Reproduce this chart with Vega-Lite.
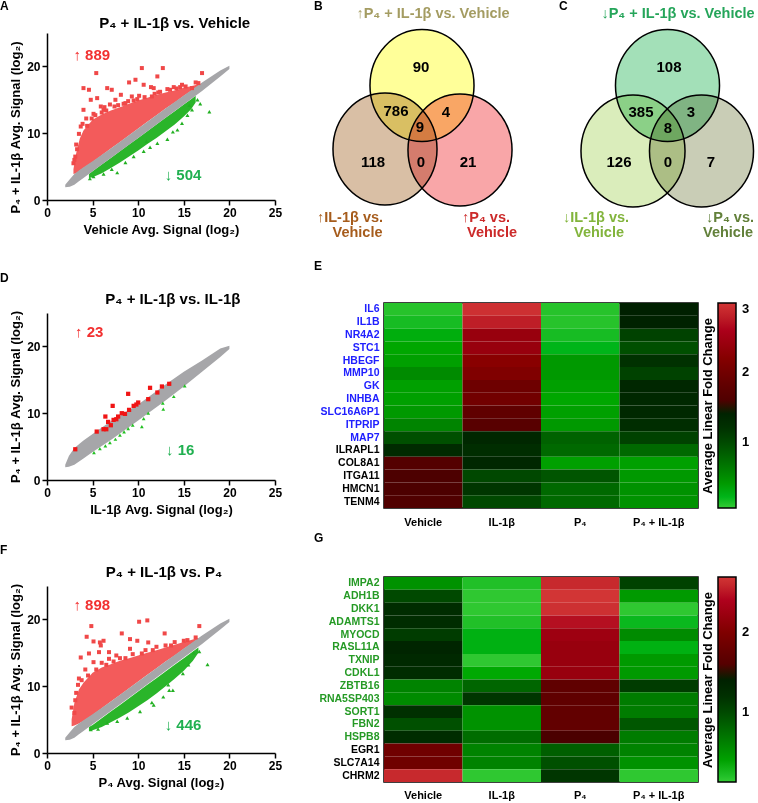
{
  "$schema": "https://vega.github.io/schema/vega-lite/v6.json",
  "padding": 0,
  "background": "white",
  "config": {
    "font": "Liberation Sans",
    "view": {"stroke": null},
    "axis": {"labelFontWeight": "bold", "titleFontWeight": "bold", "labelColor": "black", "titleColor": "black", "domainColor": "black", "tickColor": "black", "grid": false}
  },
  "datasets": {
    "A_rc": [{"x":2.9,"lo":3.9,"hi":4.6},{"x":3.2,"lo":4.0,"hi":7.0},{"x":3.6,"lo":4.4,"hi":9.2},{"x":4,"lo":4.8,"hi":10.4},{"x":5,"lo":5.7,"hi":12.0},{"x":6,"lo":6.7,"hi":12.8},{"x":7,"lo":7.7,"hi":13.4},{"x":8,"lo":8.7,"hi":13.9},{"x":9,"lo":9.7,"hi":14.4},{"x":10,"lo":10.7,"hi":14.9},{"x":11,"lo":11.7,"hi":15.3},{"x":12,"lo":12.7,"hi":15.7},{"x":13,"lo":13.7,"hi":16.1},{"x":14,"lo":14.6,"hi":16.4},{"x":15,"lo":15.6,"hi":16.8},{"x":16,"lo":16.5,"hi":17.1},{"x":16.8,"lo":17.3,"hi":17.4}],
    "A_gc": [{"x":4.6,"lo":3.3,"hi":3.9},{"x":5,"lo":3.4,"hi":4.3},{"x":6,"lo":4.0,"hi":5.3},{"x":7,"lo":4.8,"hi":6.3},{"x":8,"lo":5.6,"hi":7.3},{"x":9,"lo":6.5,"hi":8.3},{"x":10,"lo":7.4,"hi":9.3},{"x":11,"lo":8.4,"hi":10.3},{"x":12,"lo":9.3,"hi":11.3},{"x":13,"lo":10.3,"hi":12.3},{"x":14,"lo":11.3,"hi":13.3},{"x":15,"lo":12.5,"hi":14.3},{"x":15.8,"lo":13.6,"hi":15.1},{"x":16.3,"lo":14.6,"hi":15.6}],
    "A_gray": [{"x":2.0,"lo":1.9,"hi":2.3},{"x":2.5,"lo":2.0,"hi":3.1},{"x":3,"lo":2.3,"hi":3.9},{"x":3.5,"lo":2.8,"hi":4.4},{"x":4,"lo":3.3,"hi":4.9},{"x":5,"lo":4.3,"hi":5.8},{"x":7,"lo":6.3,"hi":7.7},{"x":10,"lo":9.3,"hi":10.7},{"x":13,"lo":12.3,"hi":13.7},{"x":16,"lo":15.3,"hi":16.6},{"x":17,"lo":16.3,"hi":17.6},{"x":18,"lo":17.4,"hi":18.5},{"x":19,"lo":18.5,"hi":19.4},{"x":20,"lo":19.6,"hi":20.1}],
    "A_rp": [{"x":5.4,"y":19.0},{"x":4.0,"y":16.75},{"x":4.6,"y":16.5},{"x":6.6,"y":16.75},{"x":7.1,"y":16.5},{"x":7.5,"y":15.0},{"x":5.5,"y":15.25},{"x":5.9,"y":14.0},{"x":4.0,"y":13.5},{"x":3.2,"y":8.3},{"x":9.0,"y":17.6},{"x":9.7,"y":18.0},{"x":10.4,"y":19.75},{"x":10.6,"y":17.25},{"x":11.4,"y":16.9},{"x":11.7,"y":16.75},{"x":12.7,"y":19.75},{"x":12.1,"y":18.5},{"x":13.9,"y":16.9},{"x":14.8,"y":17.25},{"x":17.0,"y":19.0},{"x":15.9,"y":16.75},{"x":11.5,"y":15.5},{"x":8.1,"y":15.75},{"x":9.3,"y":15.5},{"x":6.2,"y":13.5},{"x":3.7,"y":11.0},{"x":3.5,"y":9.9},{"x":4.8,"y":15.0},{"x":3.1,"y":6.5},{"x":2.9,"y":5.5},{"x":4.3,"y":12.2},{"x":6.9,"y":14.3},{"x":8.6,"y":14.5},{"x":10.1,"y":15.6},{"x":13.2,"y":16.6},{"x":16.3,"y":17.6},{"x":5.1,"y":12.9},{"x":3.9,"y":11.4},{"x":7.8,"y":14.2},{"x":12.4,"y":16.2},{"x":14.6,"y":16.9},{"x":6.3,"y":13.9},{"x":9.9,"y":15.1},{"x":3.0,"y":6.0},{"x":3.3,"y":7.6},{"x":4.4,"y":11.1},{"x":5.3,"y":12.7},{"x":6.5,"y":13.4},{"x":7.4,"y":14.0},{"x":8.4,"y":14.4},{"x":9.5,"y":14.9},{"x":10.7,"y":15.4},{"x":11.8,"y":15.9},{"x":13.5,"y":16.5},{"x":15.2,"y":17.0},{"x":16.6,"y":17.5},{"x":4.9,"y":12.2},{"x":6.0,"y":13.1},{"x":8.9,"y":14.8},{"x":12.2,"y":16.1},{"x":14.2,"y":16.7}],
    "A_gp": [{"x":5.1,"y":3.5},{"x":6.2,"y":3.9},{"x":7.7,"y":4.1},{"x":9.5,"y":6.5},{"x":10.6,"y":7.3},{"x":12.1,"y":8.5},{"x":13.2,"y":9.1},{"x":14.3,"y":10.5},{"x":14.8,"y":11.5},{"x":15.4,"y":12.7},{"x":15.9,"y":13.5},{"x":16.8,"y":14.4},{"x":16.5,"y":15.0},{"x":17.8,"y":13.2},{"x":4.7,"y":3.2},{"x":8.6,"y":5.6},{"x":11.3,"y":7.9},{"x":13.8,"y":10.2},{"x":15.6,"y":14.2},{"x":7.1,"y":4.6},{"x":10.9,"y":8.8}],
    "D_gray": [{"x":2.0,"lo":1.9,"hi":2.3},{"x":2.4,"lo":2.0,"hi":3.6},{"x":3,"lo":2.3,"hi":4.8},{"x":4,"lo":3.2,"hi":5.9},{"x":5,"lo":4.2,"hi":6.9},{"x":7,"lo":6.0,"hi":8.8},{"x":10,"lo":8.9,"hi":11.3},{"x":13,"lo":11.9,"hi":14.3},{"x":15,"lo":14.0,"hi":16.2},{"x":17,"lo":16.2,"hi":17.9},{"x":19,"lo":18.4,"hi":19.7},{"x":20,"lo":19.6,"hi":20.1}],
    "D_rp": [{"x":3.1,"y":4.6},{"x":5.45,"y":7.25},{"x":6.2,"y":7.6},{"x":6.5,"y":7.6},{"x":6.7,"y":8.7},{"x":7.0,"y":8.2},{"x":7.2,"y":11.1},{"x":6.4,"y":9.5},{"x":7.3,"y":9.0},{"x":7.6,"y":9.1},{"x":7.8,"y":9.5},{"x":8.2,"y":10.0},{"x":8.55,"y":9.9},{"x":8.9,"y":12.9},{"x":9.0,"y":10.5},{"x":9.5,"y":11.1},{"x":9.8,"y":11.3},{"x":10.0,"y":11.6},{"x":11.1,"y":12.1},{"x":11.3,"y":13.8},{"x":12.1,"y":13.1},{"x":12.6,"y":14.0},{"x":13.4,"y":14.4}],
    "D_gp": [{"x":5.15,"y":4.1},{"x":5.8,"y":4.7},{"x":6.4,"y":5.1},{"x":6.9,"y":5.6},{"x":7.5,"y":6.1},{"x":8.0,"y":6.7},{"x":8.45,"y":7.2},{"x":8.9,"y":7.7},{"x":9.4,"y":8.2},{"x":10.4,"y":8.0},{"x":10.6,"y":9.2},{"x":11.1,"y":10.0},{"x":12.7,"y":11.5},{"x":12.75,"y":10.6},{"x":13.9,"y":12.5},{"x":15.1,"y":14.1}],
    "F_rc": [{"x":2.7,"lo":4.0,"hi":5.0},{"x":3.0,"lo":4.1,"hi":7.5},{"x":3.5,"lo":4.4,"hi":9.5},{"x":4,"lo":4.8,"hi":10.5},{"x":5,"lo":5.7,"hi":12.0},{"x":6,"lo":6.7,"hi":12.8},{"x":7,"lo":7.7,"hi":13.3},{"x":8,"lo":8.7,"hi":13.8},{"x":9,"lo":9.7,"hi":14.2},{"x":10,"lo":10.7,"hi":14.6},{"x":11,"lo":11.7,"hi":15.0},{"x":12,"lo":12.7,"hi":15.4},{"x":13,"lo":13.7,"hi":15.8},{"x":14,"lo":14.6,"hi":16.2},{"x":15,"lo":15.6,"hi":16.6},{"x":16,"lo":16.5,"hi":17.0},{"x":16.6,"lo":17.1,"hi":17.2}],
    "F_gc": [{"x":4.6,"lo":3.3,"hi":3.9},{"x":5,"lo":3.4,"hi":4.2},{"x":6,"lo":3.9,"hi":5.2},{"x":7,"lo":4.6,"hi":6.2},{"x":8,"lo":5.3,"hi":7.2},{"x":9,"lo":6.1,"hi":8.2},{"x":10,"lo":7.0,"hi":9.2},{"x":11,"lo":7.9,"hi":10.2},{"x":12,"lo":8.9,"hi":11.2},{"x":13,"lo":10.0,"hi":12.2},{"x":14,"lo":11.1,"hi":13.2},{"x":15,"lo":12.3,"hi":14.2},{"x":16,"lo":13.8,"hi":15.2},{"x":16.6,"lo":15.0,"hi":15.8}],
    "F_gray": [{"x":2.0,"lo":1.9,"hi":2.3},{"x":2.5,"lo":2.0,"hi":3.1},{"x":3,"lo":2.3,"hi":3.9},{"x":3.5,"lo":2.8,"hi":4.4},{"x":4,"lo":3.3,"hi":4.9},{"x":5,"lo":4.3,"hi":5.8},{"x":7,"lo":6.3,"hi":7.7},{"x":10,"lo":9.3,"hi":10.7},{"x":13,"lo":12.3,"hi":13.7},{"x":16,"lo":15.3,"hi":16.6},{"x":17,"lo":16.3,"hi":17.6},{"x":18,"lo":17.4,"hi":18.5},{"x":19,"lo":18.5,"hi":19.4},{"x":20,"lo":19.6,"hi":20.1}],
    "F_rp": [{"x":4.86,"y":19.0},{"x":10.1,"y":19.65},{"x":11.0,"y":19.85},{"x":4.35,"y":17.4},{"x":5.1,"y":16.7},{"x":5.8,"y":16.55},{"x":6.2,"y":16.8},{"x":8.2,"y":17.9},{"x":9.1,"y":17.05},{"x":9.9,"y":16.8},{"x":11.1,"y":16.55},{"x":12.9,"y":17.9},{"x":16.7,"y":19.0},{"x":3.7,"y":14.3},{"x":5.7,"y":15.1},{"x":6.8,"y":15.1},{"x":5.9,"y":16.1},{"x":9.1,"y":15.6},{"x":12.0,"y":15.9},{"x":3.5,"y":11.15},{"x":3.0,"y":6.0},{"x":6.8,"y":14.1},{"x":4.2,"y":12.5},{"x":5.1,"y":13.6},{"x":3.4,"y":10.2},{"x":6.0,"y":13.5},{"x":9.4,"y":14.8},{"x":14.0,"y":16.6},{"x":15.4,"y":16.9},{"x":4.6,"y":14.9},{"x":3.2,"y":9.0},{"x":2.7,"y":6.8},{"x":7.6,"y":14.6},{"x":10.8,"y":15.4},{"x":13.0,"y":16.1},{"x":8.0,"y":14.2},{"x":3.1,"y":7.9},{"x":3.8,"y":10.9},{"x":4.5,"y":11.6},{"x":5.4,"y":12.5},{"x":6.5,"y":13.2},{"x":7.3,"y":13.7},{"x":8.6,"y":14.2},{"x":10.4,"y":14.9},{"x":11.6,"y":15.4},{"x":13.6,"y":16.1},{"x":15.0,"y":16.8},{"x":16.3,"y":17.3}],
    "F_gp": [{"x":17.6,"y":13.25},{"x":16.7,"y":15.2},{"x":16.1,"y":15.0},{"x":13.8,"y":9.4},{"x":13.4,"y":9.4},{"x":12.75,"y":8.4},{"x":13.3,"y":10.2},{"x":11.5,"y":7.55},{"x":8.8,"y":5.25},{"x":6.6,"y":4.5},{"x":4.8,"y":3.5},{"x":7.7,"y":4.75},{"x":10.2,"y":6.2},{"x":11.7,"y":7.2},{"x":14.9,"y":11.9},{"x":5.6,"y":3.6},{"x":15.5,"y":13.2}],
    "E": [
      {"g":"IL6","Vehicle":0.1,"IL-1β":2.95,"P₄":0.1,"P₄ + IL-1β":1.45},
      {"g":"IL1B","Vehicle":0.15,"IL-1β":2.8,"P₄":0.1,"P₄ + IL-1β":1.42},
      {"g":"NR4A2","Vehicle":0.25,"IL-1β":2.4,"P₄":0.15,"P₄ + IL-1β":1.05},
      {"g":"STC1","Vehicle":0.3,"IL-1β":2.4,"P₄":0.2,"P₄ + IL-1β":0.95},
      {"g":"HBEGF","Vehicle":0.35,"IL-1β":2.25,"P₄":0.4,"P₄ + IL-1β":1.2},
      {"g":"MMP10","Vehicle":0.5,"IL-1β":2.15,"P₄":0.4,"P₄ + IL-1β":1.05},
      {"g":"GK","Vehicle":0.35,"IL-1β":1.95,"P₄":0.35,"P₄ + IL-1β":1.35},
      {"g":"INHBA","Vehicle":0.35,"IL-1β":2.0,"P₄":0.3,"P₄ + IL-1β":1.32},
      {"g":"SLC16A6P1","Vehicle":0.4,"IL-1β":1.8,"P₄":0.35,"P₄ + IL-1β":1.32},
      {"g":"ITPRIP","Vehicle":0.55,"IL-1β":1.7,"P₄":0.4,"P₄ + IL-1β":1.25},
      {"g":"MAP7","Vehicle":0.95,"IL-1β":1.35,"P₄":0.8,"P₄ + IL-1β":1.05},
      {"g":"ILRAPL1","Vehicle":1.3,"IL-1β":1.25,"P₄":0.75,"P₄ + IL-1β":0.75},
      {"g":"COL8A1","Vehicle":1.65,"IL-1β":1.35,"P₄":0.35,"P₄ + IL-1β":0.35},
      {"g":"ITGA11","Vehicle":1.55,"IL-1β":1.0,"P₄":0.9,"P₄ + IL-1β":0.4},
      {"g":"HMCN1","Vehicle":1.55,"IL-1β":1.15,"P₄":0.75,"P₄ + IL-1β":0.45},
      {"g":"TENM4","Vehicle":1.6,"IL-1β":1.0,"P₄":0.75,"P₄ + IL-1β":0.45}
    ],
    "G": [
      {"g":"IMPA2","Vehicle":0.5,"IL-1β":0.2,"P₄":2.6,"P₄ + IL-1β":1.05},
      {"g":"ADH1B","Vehicle":1.0,"IL-1β":0.15,"P₄":2.69,"P₄ + IL-1β":0.45},
      {"g":"DKK1","Vehicle":1.25,"IL-1β":0.15,"P₄":2.65,"P₄ + IL-1β":0.15},
      {"g":"ADAMTS1","Vehicle":1.25,"IL-1β":0.2,"P₄":2.45,"P₄ + IL-1β":0.25},
      {"g":"MYOCD","Vehicle":1.1,"IL-1β":0.3,"P₄":2.25,"P₄ + IL-1β":0.55},
      {"g":"RASL11A","Vehicle":1.35,"IL-1β":0.3,"P₄":2.2,"P₄ + IL-1β":0.3},
      {"g":"TXNIP","Vehicle":1.3,"IL-1β":0.15,"P₄":2.2,"P₄ + IL-1β":0.45},
      {"g":"CDKL1","Vehicle":1.25,"IL-1β":0.35,"P₄":2.2,"P₄ + IL-1β":0.45},
      {"g":"ZBTB16","Vehicle":0.6,"IL-1β":0.8,"P₄":1.7,"P₄ + IL-1β":1.1},
      {"g":"RNA5SP403","Vehicle":0.55,"IL-1β":1.15,"P₄":1.7,"P₄ + IL-1β":0.65},
      {"g":"SORT1","Vehicle":1.2,"IL-1β":0.5,"P₄":1.72,"P₄ + IL-1β":0.65},
      {"g":"FBN2","Vehicle":0.95,"IL-1β":0.5,"P₄":1.72,"P₄ + IL-1β":0.9},
      {"g":"HSPB8","Vehicle":1.25,"IL-1β":0.75,"P₄":1.48,"P₄ + IL-1β":0.65},
      {"g":"EGR1","Vehicle":1.85,"IL-1β":0.6,"P₄":0.85,"P₄ + IL-1β":0.6},
      {"g":"SLC7A14","Vehicle":1.85,"IL-1β":0.6,"P₄":0.95,"P₄ + IL-1β":0.5},
      {"g":"CHRM2","Vehicle":2.6,"IL-1β":0.15,"P₄":1.15,"P₄ + IL-1β":0.15}
    ],
    "vc": [
      {"set":"B_left","cx":62,"cy":116},{"set":"B_right","cx":137,"cy":117},{"set":"B_top","cx":99,"cy":52.5},
      {"set":"C_left","cx":310,"cy":118},{"set":"C_right","cx":378.5,"cy":118},{"set":"C_top","cx":344.5,"cy":52.5}
    ],
    "vn": [
      {"n":"90","cx":98,"cy":34},{"n":"786","cx":73,"cy":78},{"n":"4","cx":123,"cy":79},{"n":"9","cx":97,"cy":94},{"n":"118","cx":50,"cy":129},{"n":"0","cx":98,"cy":129},{"n":"21","cx":145,"cy":129},
      {"n":"108","cx":346,"cy":34},{"n":"385","cx":318,"cy":79},{"n":"3","cx":368,"cy":79},{"n":"8","cx":345,"cy":95},{"n":"126","cx":296,"cy":129},{"n":"0","cx":345,"cy":129},{"n":"7","cx":388,"cy":129}
    ],
    "vl": [
      {"set":"B_top","t":"↑P₄ + IL-1β vs. Vehicle","cx":110,"cy":-19},
      {"set":"B_left","t":"↑IL-1β vs.","cx":27,"cy":185},{"set":"B_left","t":"Vehicle","cx":34.5,"cy":200},
      {"set":"B_right","t":"↑P₄ vs.","cx":163,"cy":185},{"set":"B_right","t":"Vehicle","cx":169,"cy":200},
      {"set":"C_top","t":"↓P₄ + IL-1β vs. Vehicle","cx":355,"cy":-19},
      {"set":"C_left","t":"↓IL-1β vs.","cx":273,"cy":185},{"set":"C_left","t":"Vehicle","cx":276,"cy":200},
      {"set":"C_right","t":"↓P₄ vs.","cx":407,"cy":185},{"set":"C_right","t":"Vehicle","cx":405,"cy":200}
    ]
  },
  "hconcat": [
    {
      "vconcat": [
        {
          "width": 228, "height": 167,
          "layer": [
            {"data": {"name": "A_rc"}, "mark": {"type": "area", "color": "#f35b5b"},
             "encoding": {
               "x": {"field": "x", "type": "quantitative", "scale": {"domain": [0, 25], "nice": false, "zero": false},
                     "axis": {"values": [0,5,10,15,20,25], "title": "Vehicle Avg. Signal (log₂)", "labelFontSize": 12, "titleFontSize": 13, "tickSize": 5, "domainWidth": 1.5, "tickWidth": 1.5, "labelPadding": 2, "titlePadding": 5, "labelFlush": false}},
               "y": {"field": "lo", "type": "quantitative", "scale": {"domain": [0, 25], "nice": false, "zero": false},
                     "axis": {"values": [0,5,10,15,20,25], "title": "P₄ + IL-1β Avg. Signal (log₂)", "titleY": 94, "labelFontSize": 12, "titleFontSize": 13, "tickSize": 5, "domainWidth": 1.5, "tickWidth": 1.5, "labelPadding": 2, "titlePadding": 4, "labelFlush": false}},
               "y2": {"field": "hi"}}},
            {"data": {"name": "A_gc"}, "mark": {"type": "area", "color": "#2ab52a"},
             "encoding": {"x": {"field": "x", "type": "quantitative"}, "y": {"field": "lo", "type": "quantitative"}, "y2": {"field": "hi"}}},
            {"data": {"name": "A_gray"}, "mark": {"type": "area", "color": "#a6a6a9"},
             "encoding": {"x": {"field": "x", "type": "quantitative"}, "y": {"field": "lo", "type": "quantitative"}, "y2": {"field": "hi"}}},
            {"data": {"name": "A_rp"}, "mark": {"type": "point", "shape": "square", "filled": true, "size": 16, "color": "#f04848", "opacity": 1},
             "encoding": {"x": {"field": "x", "type": "quantitative"}, "y": {"field": "y", "type": "quantitative"}}},
            {"data": {"name": "A_gp"}, "mark": {"type": "point", "shape": "triangle-up", "filled": true, "size": 16, "color": "#22b022", "opacity": 1},
             "encoding": {"x": {"field": "x", "type": "quantitative"}, "y": {"field": "y", "type": "quantitative"}}},
            {"data": {"values": [{"x": 2.9, "y": 21.7, "t": "↑ 889"}]}, "mark": {"type": "text", "align": "left", "baseline": "middle", "fontSize": 15, "fontWeight": "bold", "color": "#f23030"},
             "encoding": {"x": {"field": "x", "type": "quantitative"}, "y": {"field": "y", "type": "quantitative"}, "text": {"field": "t"}}},
            {"data": {"values": [{"x": 12.9, "y": 3.74, "t": "↓ 504"}]}, "mark": {"type": "text", "align": "left", "baseline": "middle", "fontSize": 15, "fontWeight": "bold", "color": "#20b050"},
             "encoding": {"x": {"field": "x", "type": "quantitative"}, "y": {"field": "y", "type": "quantitative"}, "text": {"field": "t"}}},
            {"data": {"values": [{"x": 14.0, "y": 26.57, "t": "P₄ + IL-1β vs. Vehicle"}]}, "mark": {"type": "text", "align": "center", "baseline": "middle", "fontSize": 15, "fontWeight": "bold", "color": "black"},
             "encoding": {"x": {"field": "x", "type": "quantitative"}, "y": {"field": "y", "type": "quantitative"}, "text": {"field": "t"}}},
            {"data": {"values": [{"x": -5.15, "y": 28.44, "t": "A"}]}, "mark": {"type": "text", "align": "left", "baseline": "alphabetic", "fontSize": 12, "fontWeight": "bold", "color": "black"},
             "encoding": {"x": {"field": "x", "type": "quantitative"}, "y": {"field": "y", "type": "quantitative"}, "text": {"field": "t"}}}
          ]
        },
        {
          "vconcat": [
            {
              "width": 228, "height": 167,
              "layer": [
                {"data": {"name": "D_gray"}, "mark": {"type": "area", "color": "#a6a6a9"},
                 "encoding": {
                   "x": {"field": "x", "type": "quantitative", "scale": {"domain": [0, 25], "nice": false, "zero": false},
                         "axis": {"values": [0,5,10,15,20,25], "title": "IL-1β Avg. Signal (log₂)", "labelFontSize": 12, "titleFontSize": 13, "tickSize": 5, "domainWidth": 1.5, "tickWidth": 1.5, "labelPadding": 2, "titlePadding": 5, "labelFlush": false}},
                   "y": {"field": "lo", "type": "quantitative", "scale": {"domain": [0, 25], "nice": false, "zero": false},
                         "axis": {"values": [0,5,10,15,20,25], "title": "P₄ + IL-1β Avg. Signal (log₂)", "labelFontSize": 12, "titleFontSize": 13, "tickSize": 5, "domainWidth": 1.5, "tickWidth": 1.5, "labelPadding": 2, "titlePadding": 4, "labelFlush": false}},
                   "y2": {"field": "hi"}}},
                {"data": {"name": "D_rp"}, "mark": {"type": "point", "shape": "square", "filled": true, "size": 18, "color": "#f01414", "opacity": 1},
                 "encoding": {"x": {"field": "x", "type": "quantitative"}, "y": {"field": "y", "type": "quantitative"}}},
                {"data": {"name": "D_gp"}, "mark": {"type": "point", "shape": "triangle-up", "filled": true, "size": 14, "color": "#22c022", "opacity": 1},
                 "encoding": {"x": {"field": "x", "type": "quantitative"}, "y": {"field": "y", "type": "quantitative"}}},
                {"data": {"values": [{"x": 3.07, "y": 22.1, "t": "↑ 23"}]}, "mark": {"type": "text", "align": "left", "baseline": "middle", "fontSize": 15, "fontWeight": "bold", "color": "#f23030"},
                 "encoding": {"x": {"field": "x", "type": "quantitative"}, "y": {"field": "y", "type": "quantitative"}, "text": {"field": "t"}}},
                {"data": {"values": [{"x": 13.05, "y": 4.5, "t": "↓ 16"}]}, "mark": {"type": "text", "align": "left", "baseline": "middle", "fontSize": 15, "fontWeight": "bold", "color": "#20b050"},
                 "encoding": {"x": {"field": "x", "type": "quantitative"}, "y": {"field": "y", "type": "quantitative"}, "text": {"field": "t"}}},
                {"data": {"values": [{"x": 13.8, "y": 27.17, "t": "P₄ + IL-1β vs. IL-1β"}]}, "mark": {"type": "text", "align": "center", "baseline": "middle", "fontSize": 15, "fontWeight": "bold", "color": "black"},
                 "encoding": {"x": {"field": "x", "type": "quantitative"}, "y": {"field": "y", "type": "quantitative"}, "text": {"field": "t"}}},
                {"data": {"values": [{"x": -5.15, "y": 29.64, "t": "D"}]}, "mark": {"type": "text", "align": "left", "baseline": "alphabetic", "fontSize": 12, "fontWeight": "bold", "color": "black"},
                 "encoding": {"x": {"field": "x", "type": "quantitative"}, "y": {"field": "y", "type": "quantitative"}, "text": {"field": "t"}}}
              ]
            },
            {
              "width": 228, "height": 167,
              "layer": [
                {"data": {"name": "F_rc"}, "mark": {"type": "area", "color": "#f35b5b"},
                 "encoding": {
                   "x": {"field": "x", "type": "quantitative", "scale": {"domain": [0, 25], "nice": false, "zero": false},
                         "axis": {"values": [0,5,10,15,20,25], "title": "P₄ Avg. Signal (log₂)", "labelFontSize": 12, "titleFontSize": 13, "tickSize": 5, "domainWidth": 1.5, "tickWidth": 1.5, "labelPadding": 2, "titlePadding": 5, "labelFlush": false}},
                   "y": {"field": "lo", "type": "quantitative", "scale": {"domain": [0, 25], "nice": false, "zero": false},
                         "axis": {"values": [0,5,10,15,20,25], "title": "P₄ + IL-1β Avg. Signal (log₂)", "labelFontSize": 12, "titleFontSize": 13, "tickSize": 5, "domainWidth": 1.5, "tickWidth": 1.5, "labelPadding": 2, "titlePadding": 4, "labelFlush": false}},
                   "y2": {"field": "hi"}}},
                {"data": {"name": "F_gc"}, "mark": {"type": "area", "color": "#2ab52a"},
                 "encoding": {"x": {"field": "x", "type": "quantitative"}, "y": {"field": "lo", "type": "quantitative"}, "y2": {"field": "hi"}}},
                {"data": {"name": "F_gray"}, "mark": {"type": "area", "color": "#a6a6a9"},
                 "encoding": {"x": {"field": "x", "type": "quantitative"}, "y": {"field": "lo", "type": "quantitative"}, "y2": {"field": "hi"}}},
                {"data": {"name": "F_rp"}, "mark": {"type": "point", "shape": "square", "filled": true, "size": 16, "color": "#f04848", "opacity": 1},
                 "encoding": {"x": {"field": "x", "type": "quantitative"}, "y": {"field": "y", "type": "quantitative"}}},
                {"data": {"name": "F_gp"}, "mark": {"type": "point", "shape": "triangle-up", "filled": true, "size": 16, "color": "#22b022", "opacity": 1},
                 "encoding": {"x": {"field": "x", "type": "quantitative"}, "y": {"field": "y", "type": "quantitative"}}},
                {"data": {"values": [{"x": 2.9, "y": 22.15, "t": "↑ 898"}]}, "mark": {"type": "text", "align": "left", "baseline": "middle", "fontSize": 15, "fontWeight": "bold", "color": "#f23030"},
                 "encoding": {"x": {"field": "x", "type": "quantitative"}, "y": {"field": "y", "type": "quantitative"}, "text": {"field": "t"}}},
                {"data": {"values": [{"x": 12.9, "y": 4.2, "t": "↓ 446"}]}, "mark": {"type": "text", "align": "left", "baseline": "middle", "fontSize": 15, "fontWeight": "bold", "color": "#20b050"},
                 "encoding": {"x": {"field": "x", "type": "quantitative"}, "y": {"field": "y", "type": "quantitative"}, "text": {"field": "t"}}},
                {"data": {"values": [{"x": 12.83, "y": 27.17, "t": "P₄ + IL-1β vs. P₄"}]}, "mark": {"type": "text", "align": "center", "baseline": "middle", "fontSize": 15, "fontWeight": "bold", "color": "black"},
                 "encoding": {"x": {"field": "x", "type": "quantitative"}, "y": {"field": "y", "type": "quantitative"}, "text": {"field": "t"}}},
                {"data": {"values": [{"x": -5.15, "y": 29.79, "t": "F"}]}, "mark": {"type": "text", "align": "left", "baseline": "alphabetic", "fontSize": 12, "fontWeight": "bold", "color": "black"},
                 "encoding": {"x": {"field": "x", "type": "quantitative"}, "y": {"field": "y", "type": "quantitative"}, "text": {"field": "t"}}}
              ]
            }
          ],
          "spacing": 106, "bounds": "flush"
        }
      ],
      "spacing": 113, "bounds": "flush"
    },
    {
      "vconcat": [
        {
          "width": 436, "height": 201,
          "layer": [
            {"data": {"name": "vc"},
             "mark": {"type": "point", "shape": "M0,-1C0.513,-1,0.929,-0.552,0.929,0C0.929,0.552,0.513,1,0,1C-0.513,1,-0.929,0.552,-0.929,0C-0.929,-0.552,-0.513,-1,0,-1Z", "size": 12544, "filled": true, "opacity": 1, "stroke": "black", "strokeWidth": 1.5, "blend": "multiply"},
             "encoding": {
               "x": {"field": "cx", "type": "quantitative", "scale": {"domain": [0, 436], "nice": false, "zero": false}, "axis": null},
               "y": {"field": "cy", "type": "quantitative", "scale": {"domain": [0, 201], "reverse": true, "nice": false, "zero": false}, "axis": null},
               "color": {"field": "set", "type": "nominal", "scale": {"domain": ["B_top","B_left","B_right","C_top","C_left","C_right"], "range": ["#ffff99","#d9bfa5","#f9a6a8","#a3e0b8","#daedbb","#c9cdb6"]}, "legend": null}}},
            {"data": {"name": "vn"}, "mark": {"type": "text", "fontSize": 15, "fontWeight": "bold", "color": "black"},
             "encoding": {"x": {"field": "cx", "type": "quantitative", "axis": null}, "y": {"field": "cy", "type": "quantitative", "axis": null}, "text": {"field": "n"}}},
            {"data": {"name": "vl"}, "mark": {"type": "text", "fontSize": 14.5, "fontWeight": "bold"},
             "encoding": {"x": {"field": "cx", "type": "quantitative", "axis": null}, "y": {"field": "cy", "type": "quantitative", "axis": null}, "text": {"field": "t"},
               "color": {"field": "set", "type": "nominal", "scale": {"domain": ["B_top","B_left","B_right","C_top","C_left","C_right"], "range": ["#a49c62","#a65c1c","#cc2a2a","#25a55a","#82b43c","#62803a"]}, "legend": null}}},
            {"data": {"values": [{"cx": -9, "cy": -23, "t": "B"}, {"cx": 236, "cy": -23, "t": "C"}]}, "mark": {"type": "text", "align": "left", "baseline": "alphabetic", "fontSize": 12, "fontWeight": "bold", "color": "black"},
             "encoding": {"x": {"field": "cx", "type": "quantitative", "axis": null}, "y": {"field": "cy", "type": "quantitative", "axis": null}, "text": {"field": "t"}}}
          ],
          "resolve": {"scale": {"color": "independent"}}
        },
        {
          "width": 314, "height": 205,
          "view": {"stroke": "black", "strokeWidth": 1.5},
          "title": {"text": "E", "anchor": "start", "frame": "group", "dx": -70, "offset": 21, "baseline": "alphabetic", "fontSize": 12, "fontWeight": "bold", "color": "black"},
          "data": {"name": "E"},
          "transform": [{"fold": ["Vehicle", "IL-1β", "P₄", "P₄ + IL-1β"], "as": ["c", "v"]}],
          "mark": {"type": "rect"},
          "encoding": {
            "x": {"field": "c", "type": "nominal", "sort": ["Vehicle", "IL-1β", "P₄", "P₄ + IL-1β"], "scale": {"paddingInner": 0, "paddingOuter": 0},
                  "axis": {"title": null, "orient": "bottom", "labelAngle": 0, "ticks": false, "domain": false, "labelFontSize": 11, "labelPadding": 8}},
            "y": {"field": "g", "type": "nominal", "sort": ["IL6","IL1B","NR4A2","STC1","HBEGF","MMP10","GK","INHBA","SLC16A6P1","ITPRIP","MAP7","ILRAPL1","COL8A1","ITGA11","HMCN1","TENM4"], "scale": {"paddingInner": 0, "paddingOuter": 0},
                  "axis": {"title": null, "ticks": false, "domain": false, "labelFontSize": 10.5, "labelPadding": 5,
                           "labelColor": {"condition": {"test": "indexof(['IL6','IL1B','NR4A2','STC1','HBEGF','MMP10','GK','INHBA','SLC16A6P1','ITPRIP','MAP7'], datum.value) >= 0", "value": "#2020ff"}, "value": "black"}}},
            "color": {"field": "v", "type": "quantitative", "scale": {"domain": [0.04, 1.46, 3], "range": ["#35cc35", "#000000", "#d23535"]},
                      "legend": {"title": "Average Linear Fold Change", "titleOrient": "left", "titleAngle": 270, "titleAnchor": "middle", "titleFontSize": 13, "titleFontWeight": "bold", "titleColor": "black", "titlePadding": 2,
                                 "gradientLength": 205, "gradientThickness": 18, "gradientStrokeColor": "black", "gradientStrokeWidth": 1.5, "values": [1, 2, 3], "format": ".0f", "labelFontSize": 13, "labelFontWeight": "bold", "labelColor": "black", "labelOffset": 6, "offset": 4, "direction": "vertical"}}
          }
        },
        {
          "width": 314, "height": 205,
          "view": {"stroke": "black", "strokeWidth": 1.5},
          "title": {"text": "G", "anchor": "start", "frame": "group", "dx": -70, "offset": 23, "baseline": "alphabetic", "fontSize": 12, "fontWeight": "bold", "color": "black"},
          "data": {"name": "G"},
          "transform": [{"fold": ["Vehicle", "IL-1β", "P₄", "P₄ + IL-1β"], "as": ["c", "v"]}],
          "mark": {"type": "rect"},
          "encoding": {
            "x": {"field": "c", "type": "nominal", "sort": ["Vehicle", "IL-1β", "P₄", "P₄ + IL-1β"], "scale": {"paddingInner": 0, "paddingOuter": 0},
                  "axis": {"title": null, "orient": "bottom", "labelAngle": 0, "ticks": false, "domain": false, "labelFontSize": 11, "labelPadding": 7}},
            "y": {"field": "g", "type": "nominal", "sort": ["IMPA2","ADH1B","DKK1","ADAMTS1","MYOCD","RASL11A","TXNIP","CDKL1","ZBTB16","RNA5SP403","SORT1","FBN2","HSPB8","EGR1","SLC7A14","CHRM2"], "scale": {"paddingInner": 0, "paddingOuter": 0},
                  "axis": {"title": null, "ticks": false, "domain": false, "labelFontSize": 10.5, "labelPadding": 5,
                           "labelColor": {"condition": {"test": "indexof(['EGR1','SLC7A14','CHRM2'], datum.value) >= 0", "value": "black"}, "value": "#259a25"}}},
            "color": {"field": "v", "type": "quantitative", "scale": {"domain": [0.125, 1.43, 2.69], "range": ["#35cc35", "#000000", "#d23535"]},
                      "legend": {"title": "Average Linear Fold Change", "titleOrient": "left", "titleAngle": 270, "titleAnchor": "middle", "titleFontSize": 13, "titleFontWeight": "bold", "titleColor": "black", "titlePadding": 2,
                                 "gradientLength": 205, "gradientThickness": 18, "gradientStrokeColor": "black", "gradientStrokeWidth": 1.5, "values": [1, 2], "format": ".0f", "labelFontSize": 13, "labelFontWeight": "bold", "labelColor": "black", "labelOffset": 6, "offset": 4, "direction": "vertical"}}
          }
        }
      ],
      "spacing": 69, "bounds": "flush", "center": true,
      "resolve": {"scale": {"color": "independent"}}
    }
  ],
  "spacing": 31, "bounds": "full"
}
